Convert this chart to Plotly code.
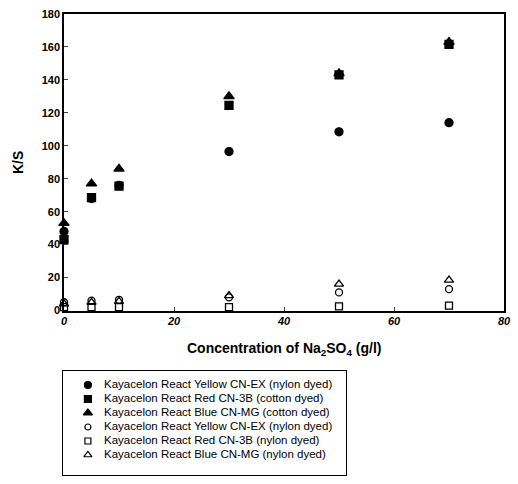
import plotly.graph_objects as go

# Na2SO4 concentration (g/l)
conc = [0, 5, 10, 30, 50, 70]

# K/S values for each dye / substrate combination
yellow_filled = [48, 68, 76, 96.5, 108.5, 114]
red_filled = [43, 68.5, 75.5, 124.5, 143, 161.5]
blue_filled = [53, 77, 86, 130, 144, 163]
yellow_open = [5, 6, 6.5, 8, 11, 13]
red_open = [2, 2, 2, 2, 2.5, 3]
blue_open = [4, 5, 5.5, 9, 16, 18.5]

series_names = [
    "Kayacelon React Yellow CN-EX (nylon dyed)",
    "Kayacelon React Red CN-3B (cotton dyed)",
    "Kayacelon React Blue CN-MG (cotton dyed)",
    "Kayacelon React Yellow CN-EX (nylon dyed)",
    "Kayacelon React Red CN-3B (nylon dyed)",
    "Kayacelon React Blue CN-MG (nylon dyed)",
]
series_values = [yellow_filled, red_filled, blue_filled, yellow_open, red_open, blue_open]
symbols = ["circle", "square", "triangle-up", "circle-open", "square-open", "triangle-up-open"]
sizes = [8, 8, 9, 7, 7, 8]

x_ticks = [0, 20, 40, 60, 80]
y_ticks = [0, 20, 40, 60, 80, 100, 120, 140, 160, 180]

W, H = 518, 484


def px_x(p):
    return p / W


def px_y(p):
    return (H - p) / H


fig = go.Figure()

# data markers
for name, vals, sym, sz in zip(series_names, series_values, symbols, sizes):
    fig.add_trace(go.Scatter(
        x=conc, y=vals, mode="markers", name=name, cliponaxis=False,
        marker=dict(symbol=sym, size=sz, color="black",
                    line=dict(color="black", width=1.3)),
        showlegend=False,
    ))

# key box drawn on its own axes: one row per series
rows = list(range(len(series_names)))
for r, sym, sz in zip(rows, symbols, sizes):
    fig.add_trace(go.Scatter(
        x=[0.088], y=[r], mode="markers", xaxis="x2", yaxis="y2",
        cliponaxis=False, showlegend=False, hoverinfo="skip",
        marker=dict(symbol=sym, size=sz - 1, color="black",
                    line=dict(color="black", width=1.2)),
    ))
fig.add_trace(go.Scatter(
    x=[0.145] * len(rows), y=rows, mode="text", text=series_names,
    textposition="middle right", xaxis="x2", yaxis="y2", cliponaxis=False,
    textfont=dict(size=11.5, family="Liberation Sans, Arial", color="black"),
    showlegend=False, hoverinfo="skip",
))

fig.update_layout(
    width=W, height=H,
    margin=dict(l=0, r=0, t=0, b=0),
    paper_bgcolor="white", plot_bgcolor="white",
    font=dict(family="Liberation Sans, Arial", color="black"),
    showlegend=False,
    xaxis=dict(
        domain=[px_x(64), px_x(504)], anchor="y",
        range=[0, 80], tickvals=x_ticks, ticks="inside", ticklen=4,
        showline=True, linecolor="black", linewidth=1.5, mirror=True,
        showgrid=False, zeroline=False, automargin=False,
        tickfont=dict(size=11, weight="bold", style="italic"),
    ),
    yaxis=dict(
        domain=[px_y(310.5), px_y(14)], anchor="x",
        range=[0, 180], tickvals=y_ticks, ticks="inside", ticklen=4,
        showline=True, linecolor="black", linewidth=1.5, mirror=True,
        showgrid=False, zeroline=False, automargin=False,
        tickfont=dict(size=11, weight="bold"),
    ),
    xaxis2=dict(
        domain=[px_x(63), px_x(346)], anchor="y2", range=[0, 1],
        showline=True, linecolor="black", linewidth=1, mirror=True,
        showgrid=False, zeroline=False, showticklabels=False, ticks="",
        fixedrange=True,
    ),
    yaxis2=dict(
        domain=[px_y(475), px_y(371)], anchor="x2", range=[6.43, -1],
        showline=True, linecolor="black", linewidth=1, mirror=True,
        showgrid=False, zeroline=False, showticklabels=False, ticks="",
        fixedrange=True,
    ),
    annotations=[
        dict(text="Concentration of Na<sub>2</sub>SO<sub>4</sub> (g/l)",
             x=px_x(284), y=px_y(349), xref="paper", yref="paper",
             xanchor="center", yanchor="middle", showarrow=False,
             font=dict(size=14, weight="bold")),
        dict(text="K/S", x=px_x(18), y=px_y(163), xref="paper", yref="paper",
             xanchor="center", yanchor="middle", showarrow=False, textangle=-90,
             font=dict(size=14, weight="bold")),
    ],
)

fig.write_html("out.html")
